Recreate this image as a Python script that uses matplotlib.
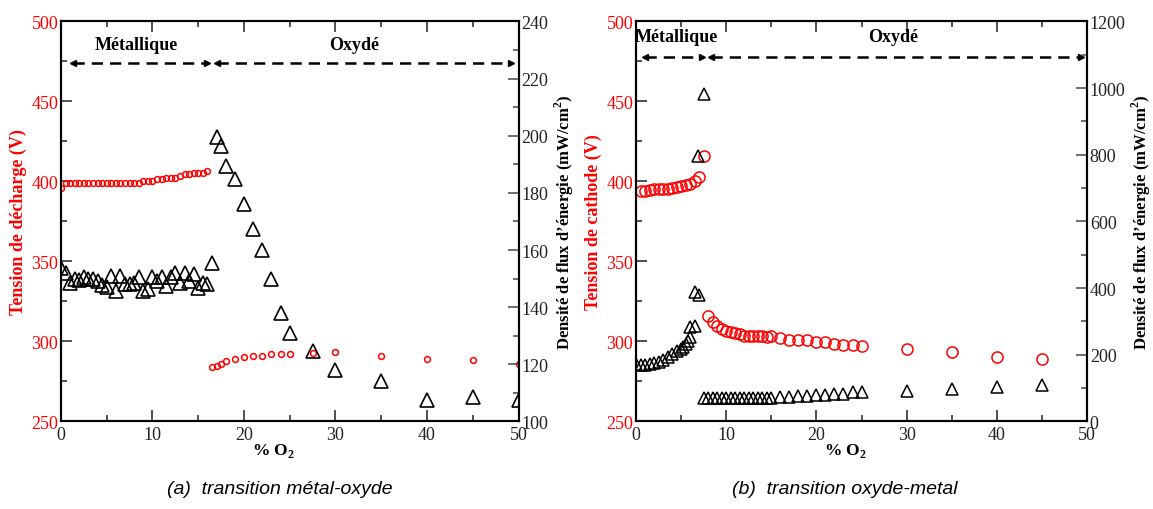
import numpy as np
import matplotlib.pyplot as plt
from matplotlib.ticker import MultipleLocator

plt.rcParams['font.family'] = ['Liberation Serif', 'DejaVu Serif']
plt.rcParams['mathtext.fontset'] = 'custom'
plt.rcParams['mathtext.rm'] = 'Liberation Serif'
plt.rcParams['mathtext.bf'] = 'Liberation Serif:bold'

RED = '#ff0000'

# ---- (a) transition métal-oxyde ----
xa_met = [0, 0.5, 1, 1.5, 2, 2.5, 3, 3.5, 4, 4.5, 5, 5.5, 6, 6.5, 7, 7.5, 8,
          8.5, 9, 9.5, 10, 10.5, 11, 11.5, 12, 12.5, 13, 13.5, 14, 14.5, 15,
          15.5, 16]
va_met = [396, 399, 399, 399, 399, 399, 399, 399, 399, 399, 399, 399, 399,
          399, 399, 399, 399, 399, 400.3, 400.3, 400.3, 401.4, 401.4, 402.4,
          402.4, 402.4, 403.6, 404.5, 404.5, 405.3, 405.3, 405.3, 406.4]
xa_ox = [16.5, 17, 17.5, 18, 19, 20, 21, 22, 23, 24, 25, 27.5, 30, 35, 40, 45, 50]
va_ox = [284, 284.9, 285.7, 288, 289.3, 290.1, 291.2, 291.2, 292, 292, 292,
         292.6, 293.2, 291.1, 289.3, 288.2, 286]

xa_fmet = [0, 0.5, 1, 1.5, 2, 2.5, 3, 3.5, 4, 4.5, 5, 5.5, 6, 6.5, 7, 7.5, 8,
           8.5, 9, 9.5, 10, 10.5, 11, 11.5, 12, 12.5, 13, 13.5, 14, 14.5, 15,
           15.5, 16, 16.5]
fa_met = [153.6, 152.1, 148.4, 149.8, 149.6, 150.4, 149.8, 149.8, 149, 147.8,
          146.9, 151, 145.5, 151, 148.1, 148.1, 148.4, 150.5, 145.7, 146.3,
          150.5, 149, 150.5, 147.5, 150.4, 152.1, 148.6, 152.1, 149.2, 151.5,
          146.7, 148.6, 148.1, 155.4]
xa_fox = [17, 17.5, 18, 19, 20, 21, 22, 23, 24, 25, 27.5, 30, 35, 40, 45, 50]
fa_ox = [199.5, 196.3, 189.3, 184.7, 176, 167.2, 160.1, 149.8, 138, 130.8,
         124.6, 118, 114.1, 107.6, 108.6, 107.6]

# ---- (b) transition oxyde-metal ----
xb_met = [0.5, 1, 1.5, 2, 2.5, 3, 3.5, 4, 4.5, 5, 5.5, 6, 6.5, 7, 7.5]
vb_met = [394, 394, 394.5, 395, 395, 395, 395.5, 396, 396.5, 397, 397.5,
          398.5, 400, 402.5, 416]
xb_ox = [8, 8.5, 9, 9.5, 10, 10.5, 11, 11.5, 12, 12.5, 13, 13.5, 14, 14.5, 15,
         16, 17, 18, 19, 20, 21, 22, 23, 24, 25, 30, 35, 40, 45]
vb_ox = [316, 312.4, 309.5, 307.8, 306.8, 305.7, 305.3, 304.7, 303.3, 303.3,
         303.3, 303.3, 303.3, 302.7, 303.3, 302, 301.2, 301.2, 301.2, 299.5,
         299.5, 298.5, 297.9, 297.9, 297.1, 295.3, 293.2, 290.1, 289]

xb_fmet = [0, 0.5, 1, 1.5, 2, 2.5, 3, 3.5, 4, 4.5, 5, 5.25, 5.5, 5.75, 6, 6,
           6.5, 6.5, 7, 6.9, 7.5]
fb_met = [172, 169, 169, 172, 174, 177, 184, 192, 202, 212, 217, 222, 232,
          242, 252, 282, 287, 387, 379, 797, 982]
xb_fox = [7.5, 8, 8.5, 9, 9.5, 10, 10.5, 11, 11.5, 12, 12.5, 13, 13.5, 14,
          14.5, 15, 16, 17, 18, 19, 20, 21, 22, 23, 24, 25, 30, 35, 40, 45]
fb_ox = [70, 70, 70, 70, 70, 70, 70, 70, 70, 71, 71, 71, 71, 71, 71, 71,
         73, 74, 76, 77, 78, 79, 82, 83, 87, 89, 92, 97, 102, 109]


fig = plt.figure(figsize=(11.53, 5.1), dpi=100)
ax1 = fig.add_axes([0.0529, 0.1716, 0.3968, 0.7843])
ax2 = fig.add_axes([0.5516, 0.1716, 0.3912, 0.7843])


def style(ax, ylabel, rlim, rmaj, rmin, rlabel):
    ax.set_xlim(0, 50)
    ax.set_ylim(250, 500)
    ax.xaxis.set_major_locator(MultipleLocator(10))
    ax.xaxis.set_minor_locator(MultipleLocator(5))
    ax.yaxis.set_major_locator(MultipleLocator(50))
    ax.yaxis.set_minor_locator(MultipleLocator(25))
    ax.tick_params(which='both', direction='in', top=True, right=False,
                   labelsize=13, width=1.2, colors='#333333',
                   labelcolor='#222222')
    ax.tick_params(which='major', length=8)
    ax.tick_params(which='minor', length=4)
    ax.tick_params(axis='y', labelcolor=RED, pad=2)
    ax.set_xlabel(r'% O$_\mathbf{2}$', fontsize=12.5, fontweight='bold')
    ax.xaxis.set_label_coords(0.465, -0.048)
    ax.set_ylabel(ylabel, color=RED, fontsize=13, fontweight='bold',
                  labelpad=3)
    for s in ax.spines.values():
        s.set_linewidth(1.5)
    tw = ax.twinx()
    tw.set_ylim(*rlim)
    tw.yaxis.set_major_locator(MultipleLocator(rmaj))
    tw.yaxis.set_minor_locator(MultipleLocator(rmin))
    tw.tick_params(which='both', direction='in', labelsize=13, width=1.2,
                   colors='#555555', labelcolor='#222222', pad=2)
    tw.tick_params(which='major', length=8)
    tw.tick_params(which='minor', length=4)
    tw.set_ylabel(rlabel, fontsize=12, fontweight='bold', labelpad=3)
    for s in tw.spines.values():
        s.set_linewidth(1.5)
    return tw


def double_arrow(ax, x0, x1, y):
    ax.plot([x0, x1], [y, y], ls=(0, (4.5, 2.8)), color='black', lw=1.8)
    ax.plot([x0], [y], marker='<', color='black', ms=4.5, ls='none')
    ax.plot([x1], [y], marker='>', color='black', ms=4.5, ls='none')


rlab = r'Densité de flux d’énergie (mW/cm$^\mathbf{2}$)'

# panel a
tw1 = style(ax1, 'Tension de décharge (V)', (100, 240), 20, 10, rlab)
ax1.plot(xa_met, va_met, 'o', mfc='none', mec=RED, ms=4.2, mew=1.1)
ax1.plot(xa_ox, va_ox, 'o', mfc='none', mec=RED, ms=4.2, mew=1.1)
tw1.plot(xa_fmet, fa_met, '^', mfc='none', mec='black', ms=9.5, mew=1.2)
tw1.plot(xa_fox, fa_ox, '^', mfc='none', mec='black', ms=9.5, mew=1.2)
double_arrow(ax1, 1.3, 16.0, 474)
double_arrow(ax1, 17.0, 49.2, 474)
ax1.text(8.2, 485.5, 'Métallique', ha='center', va='center',
         fontsize=13, fontweight='bold')
ax1.text(32, 485.5, 'Oxydé', ha='center', va='center',
         fontsize=13, fontweight='bold')

# panel b
tw2 = style(ax2, 'Tension de cathode (V)', (0, 1200), 200, 100, rlab)
ax2.plot(xb_met, vb_met, 'o', mfc='none', mec=RED, ms=8, mew=1.1)
ax2.plot(xb_ox, vb_ox, 'o', mfc='none', mec=RED, ms=8, mew=1.1)
tw2.plot(xb_fmet, fb_met, '^', mfc='none', mec='black', ms=8, mew=1.1)
tw2.plot(xb_fox, fb_ox, '^', mfc='none', mec='black', ms=8, mew=1.1)
double_arrow(ax2, 1.0, 7.3, 478)
double_arrow(ax2, 8.3, 49.3, 478)
ax2.text(4.5, 490.5, 'Métallique', ha='center', va='center',
         fontsize=13, fontweight='bold')
ax2.text(28.5, 490.5, 'Oxydé', ha='center', va='center',
         fontsize=13, fontweight='bold')

cap = dict(fontsize=14, style='italic', family=['Liberation Sans', 'DejaVu Sans'],
           ha='center', va='center')
fig.text(0.243, 0.04, '(a)  transition métal-oxyde', **cap)
fig.text(0.733, 0.04, '(b)  transition oxyde-metal', **cap)

fig.savefig('out.png', dpi=100)
